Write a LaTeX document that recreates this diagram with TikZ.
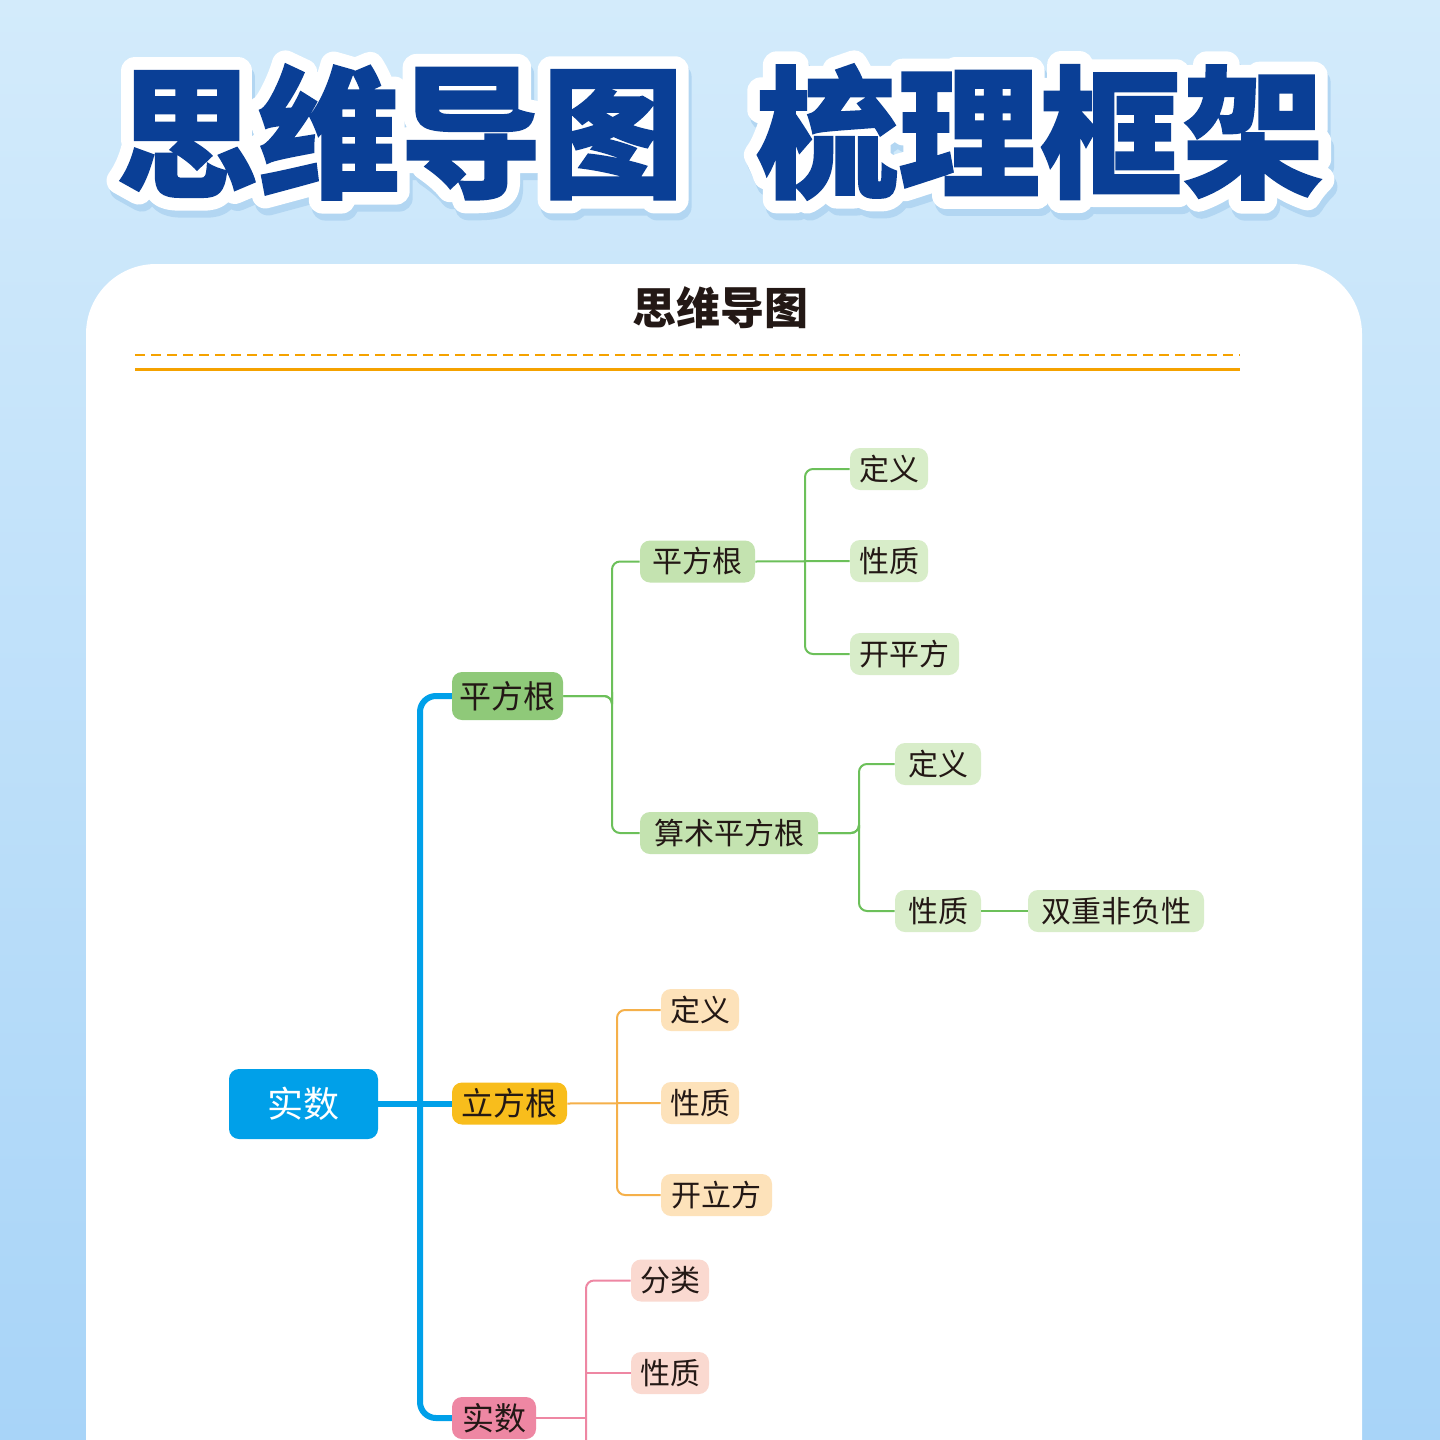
\documentclass[tikz,border=0pt]{standalone}
\usepackage{fontspec}
\newfontfamily\cjk{Noto Sans CJK SC}
\newfontfamily\cjkheavy[BoldFeatures={FakeBold=1.2}]{Noto Sans CJK SC}
\newfontfamily\cjkoutline[BoldFeatures={FakeBold=19}]{Noto Sans CJK SC}
\usetikzlibrary{calc}
\definecolor{bgtop}{HTML}{D3EBFB}
\definecolor{bgbot}{HTML}{A8D4F8}
\definecolor{titleblue}{HTML}{0A3F96}
\definecolor{shadowblue}{HTML}{B2D6F2}
\definecolor{txt}{HTML}{231815}
\definecolor{orangeline}{HTML}{F5A200}
\definecolor{rootblue}{HTML}{00A0E9}
\definecolor{gA}{HTML}{8FC979}
\definecolor{gB}{HTML}{C4E3B0}
\definecolor{gC}{HTML}{D8EDC9}
\definecolor{gline}{HTML}{6CC05A}
\definecolor{oA}{HTML}{F8BD1C}
\definecolor{oB}{HTML}{FDE2BA}
\definecolor{oline}{HTML}{F5B04A}
\definecolor{pA}{HTML}{EE87A3}
\definecolor{pB}{HTML}{FAD9D0}
\definecolor{pline}{HTML}{EE87A3}
\newcommand\roundjoin{\special{pdf:literal 1 j}}
\tikzset{
  box/.style={rounded corners=5pt, inner sep=0pt, text=txt, font=\cjk\fontsize{15pt}{15pt}\selectfont, minimum height=21pt},
  lvone/.style={box, font=\cjk\fontsize{16pt}{16pt}\selectfont},
  rootbox/.style={rounded corners=5pt, fill=rootblue, text=white, inner sep=0pt, minimum width=74.5pt, minimum height=35pt, font=\cjk\fontsize{18pt}{18pt}\selectfont},
  trunk/.style={draw=rootblue, line width=3pt, rounded corners=8pt},
  gconn/.style={draw=gline, line width=1pt, rounded corners=4pt},
  oconn/.style={draw=oline, line width=1pt, rounded corners=4pt},
  pconn/.style={draw=pline, line width=1pt, rounded corners=4pt},
  titletext/.style={font=\cjkheavy\bfseries\fontsize{71pt}{71pt}\selectfont, inner sep=0pt},
  titleoutline/.style={font=\cjkoutline\bfseries\fontsize{71pt}{71pt}\selectfont, inner sep=0pt},
}
\begin{document}
\begin{tikzpicture}[x=0.5pt,y=-0.5pt]
\useasboundingbox (0,0) rectangle (1440,1440);
\begin{scope}
\clip (0,0) rectangle (1440,1440);
\shade[top color=bgtop, bottom color=bgbot] (0,0) rectangle (1440,1440);
\fill[white, rounded corners=35pt] (86,264) rectangle (1362,1700);

% title
\foreach \tx/\tt in {400/思维导图, 1040/梳理框架}{
  \node[titleoutline, text=shadowblue] at (\tx+3,139) {\roundjoin\tt};
  \node[titleoutline, text=white] at (\tx,132) {\roundjoin\tt};
  \node[titletext, text=titleblue] (title\tx) at (\tx,132) {\tt};
}

% subtitle
\node[font=\cjk\bfseries\fontsize{22pt}{22pt}\selectfont, text=txt] (sub) at (720,308) {思维导图};
\coordinate (dl) at (135,355); \coordinate (dr) at (1240,355);
\coordinate (sl) at (135,369); \coordinate (sr) at (1240,369);
\draw[orangeline, line width=1pt, dash pattern=on 5pt off 3pt] (dl) -- (dr);
\draw[orangeline, line width=1.5pt] (sl) -- (sr);

% connectors
\path[trunk] (507.5,696) -| (420,1000) |- (494,1418);
\path[draw=rootblue, line width=3pt] (303.5,1104) -- (509.5,1104);

% nodes
\node[rootbox] (root) at (303.5,1104) {实数};
\node[lvone, fill=gA, minimum width=55.5pt, minimum height=24pt] (a) at (507.5,696) {平方根};
\node[lvone, fill=oA, minimum width=57.5pt] (b) at (509.5,1103.5) {立方根};
\node[lvone, fill=pA, minimum width=42pt] (c) at (494,1418) {实数};

\node[box, fill=gB, minimum width=57.5pt] (a1) at (697.5,561.5) {平方根};
\node[box, fill=gB, minimum width=89pt] (a2) at (729,833) {算术平方根};
\node[box, fill=gC, minimum width=39pt] (a11) at (889,469) {定义};
\node[box, fill=gC, minimum width=39pt] (a12) at (889,561) {性质};
\node[box, fill=gC, minimum width=54.5pt] (a13) at (904.5,654) {开平方};
\node[box, fill=gC, minimum width=43pt] (a21) at (938,764) {定义};
\node[box, fill=gC, minimum width=43pt] (a22) at (938,911) {性质};
\node[box, fill=gC, minimum width=88pt] (a221) at (1116,911) {双重非负性};

\node[box, fill=oB, minimum width=39pt] (b1) at (700,1010) {定义};
\node[box, fill=oB, minimum width=39pt] (b2) at (700,1103) {性质};
\node[box, fill=oB, minimum width=55.5pt] (b3) at (716.5,1195) {开立方};

\node[box, fill=pB, minimum width=39pt] (c1) at (670,1280.5) {分类};
\node[box, fill=pB, minimum width=39pt] (c2) at (670,1373) {性质};
\coordinate (cend) at (586,1460);

\path[gconn] (a.east) -| (612,700) |- (a1.west);
\path[gconn] (a.east) -| (612,700) |- (a2.west);
\path[gconn] (a1.east) -- (a12.west);
\path[gconn] (a11.west) -| (805,561) |- (a13.west);
\path[gconn] (a2.east) -| (859,833) |- (a21.west);
\path[gconn] (a2.east) -| (859,833) |- (a22.west);
\path[gconn] (a22.east) -- (a221.west);

\path[oconn] (b.east) -- (b2.west);
\path[oconn] (b1.west) -| (617,1103) |- (b3.west);

\path[pconn] (c.east) -- (586,1418);
\path[pconn] (c1.west) -| (cend);
\path[pconn] (c2.west) -- (586,1373);
\end{scope}
\end{tikzpicture}
\end{document}
